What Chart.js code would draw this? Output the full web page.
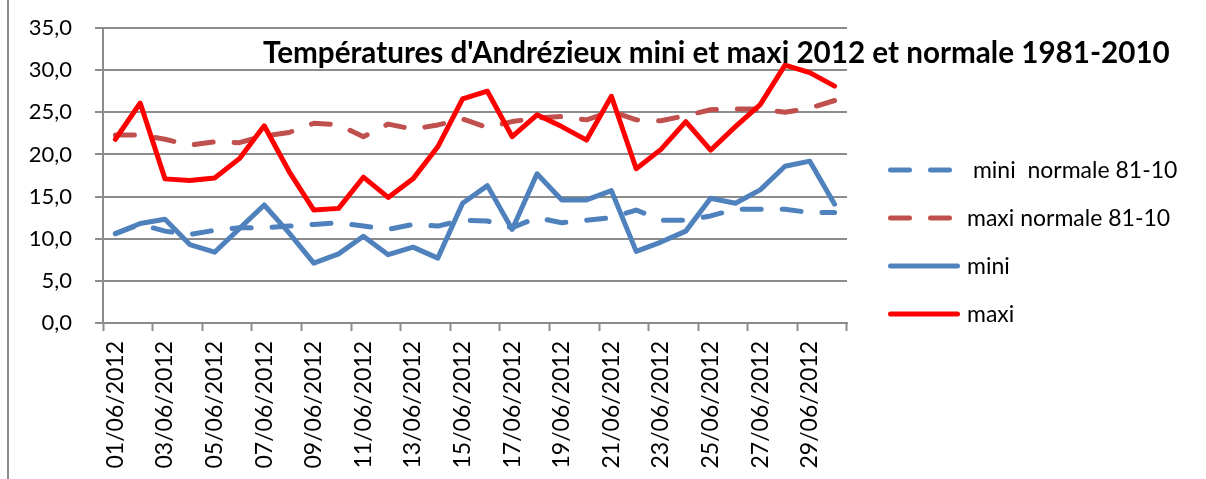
<!DOCTYPE html>
<html><head><meta charset="utf-8">
<script src="https://cdn.jsdelivr.net/npm/chart.js@4/dist/chart.umd.min.js"></script>
<style>
html,body{margin:0;padding:0;background:#fff;}
#wrap{position:relative;width:1206px;height:479px;overflow:hidden;}
#frame{position:absolute;left:7px;top:0;width:2px;height:479px;background:#8c8c8c;}
canvas{position:absolute;left:0;top:0;}
</style></head><body>
<div id="wrap"><div id="frame"></div><canvas id="c" width="1206" height="479"></canvas></div>
<script>
const categories = ['01/06/2012','02/06/2012','03/06/2012','04/06/2012','05/06/2012','06/06/2012','07/06/2012','08/06/2012','09/06/2012','10/06/2012',
  '11/06/2012','12/06/2012','13/06/2012','14/06/2012','15/06/2012','16/06/2012','17/06/2012','18/06/2012','19/06/2012','20/06/2012',
  '21/06/2012','22/06/2012','23/06/2012','24/06/2012','25/06/2012','26/06/2012','27/06/2012','28/06/2012','29/06/2012','30/06/2012'];
const miniNormale = [10.6, 11.7, 10.9, 10.5, 11.0, 11.3, 11.3, 11.5, 11.7, 11.9, 11.5, 11.1, 11.7, 11.5, 12.2, 12.1, 11.3, 12.5, 11.9, 12.2, 12.5, 13.4, 12.2, 12.2, 12.7, 13.5, 13.5, 13.5, 13.1, 13.1];
const maxiNormale = [22.3, 22.3, 21.8, 21.1, 21.5, 21.4, 22.2, 22.6, 23.7, 23.5, 22.1, 23.6, 23.0, 23.5, 24.2, 23.2, 23.9, 24.3, 24.5, 24.1, 25.1, 24.1, 24.0, 24.6, 25.3, 25.4, 25.4, 25.0, 25.5, 26.4];
const mini = [10.6, 11.8, 12.3, 9.3, 8.4, 11.2, 14.0, 10.7, 7.1, 8.2, 10.3, 8.1, 9.0, 7.7, 14.2, 16.3, 11.1, 17.7, 14.6, 14.6, 15.7, 8.5, 9.6, 10.9, 14.8, 14.2, 15.8, 18.6, 19.2, 14.1];
const maxi = [21.8, 26.1, 17.1, 16.9, 17.2, 19.5, 23.4, 18.0, 13.4, 13.6, 17.3, 14.9, 17.1, 20.9, 26.6, 27.5, 22.1, 24.7, 23.3, 21.7, 26.9, 18.3, 20.6, 23.9, 20.5, 23.3, 25.9, 30.6, 29.7, 28.1];
const yTicks = [0, 5, 10, 15, 20, 25, 30, 35];
const titleText = "Températures d'Andrézieux mini et maxi 2012 et normale 1981-2010";
const seriesNames = [' mini  normale 81-10', 'maxi normale 81-10', 'mini', 'maxi'];

const GRAY = '#8c8c8c';
const DASH = [19, 21];

const datasets = [
  {label: seriesNames[3], data: maxi, borderColor: '#ff0000', borderWidth: 5},
  {label: seriesNames[2], data: mini, borderColor: '#4f81bd', borderWidth: 5},
  {label: seriesNames[1], data: maxiNormale, borderColor: '#c0504d', borderWidth: 5, borderDash: DASH},
  {label: seriesNames[0], data: miniNormale, borderColor: '#4f81bd', borderWidth: 5, borderDash: DASH}
].map(d => Object.assign({pointRadius: 0, tension: 0, fill: false, borderCapStyle: 'round', borderJoinStyle: 'round'}, d));

const legendOrder = [3, 2, 1, 0];

const titlePlugin = {
  id: 'insideTitle',
  afterDraw(chart) {
    const ctx = chart.ctx;
    ctx.save();
    let size = 27;
    ctx.font = 'bold ' + size + 'px Lato';
    const w = ctx.measureText(titleText).width;
    size = size * 907 / w;
    ctx.font = 'bold ' + size.toFixed(2) + 'px Lato';
    ctx.fillStyle = '#000';
    ctx.textBaseline = 'alphabetic';
    ctx.textAlign = 'left';
    ctx.fillText(titleText, 263, 62.5);
    ctx.restore();
  }
};

const legendPlugin = {
  id: 'sideLegend',
  afterDraw(chart) {
    const ctx = chart.ctx;
    const ys = [170, 218, 266, 314];
    ctx.save();
    legendOrder.forEach((di, k) => {
      const ds = chart.data.datasets[di];
      const y = ys[k];
      ctx.beginPath();
      ctx.lineWidth = ds.borderWidth;
      ctx.lineCap = 'round';
      ctx.strokeStyle = ds.borderColor;
      ctx.setLineDash(ds.borderDash || []);
      ctx.moveTo(890.5, y);
      ctx.lineTo(957.5, y);
      ctx.stroke();
      ctx.setLineDash([]);
      ctx.font = '23px Lato';
      ctx.fillStyle = '#000';
      ctx.textBaseline = 'middle';
      ctx.textAlign = 'left';
      ctx.fillText(ds.label, 967, y + 1);
    });
    ctx.restore();
  }
};

new Chart(document.getElementById('c'), {
  type: 'line',
  data: {labels: categories, datasets: datasets},
  options: {
    responsive: false,
    animation: false,
    devicePixelRatio: 1,
    layout: {padding: {top: 28, right: 359, left: 0, bottom: 0}},
    plugins: {legend: {display: false}, tooltip: {enabled: false}, title: {display: false}},
    scales: {
      x: {
        type: 'category',
        offset: true,
        grid: {
          offset: true, drawOnChartArea: false, drawTicks: true, tickLength: 8, tickWidth: 2,
          tickColor: c => (c.index === undefined || c.index % 2 === 0) ? GRAY : 'rgba(0,0,0,0)'
        },
        border: {color: GRAY, width: 2},
        ticks: {
          autoSkip: false, minRotation: 90, maxRotation: 90, padding: 10, color: '#000',
          font: {family: 'Lato', size: 23},
          callback: (v, i) => (i % 2 === 0 ? categories[i] : '')
        },
        afterFit: s => { s.height = 156; s.paddingLeft = 0; s.paddingRight = 0; s.paddingTop = 0; s.paddingBottom = 0; }
      },
      y: {
        min: yTicks[0], max: yTicks[yTicks.length - 1],
        afterBuildTicks: s => { s.ticks = yTicks.map(v => ({value: v})); },
        ticks: {
          padding: 23, color: '#000', font: {family: 'Lato', size: 22},
          callback: v => v.toFixed(1).replace('.', ',')
        },
        grid: {color: GRAY, lineWidth: 2, tickLength: 8},
        border: {color: GRAY, width: 2},
        afterFit: s => { s.width = 103; s.paddingTop = 0; s.paddingBottom = 0; s.paddingLeft = 0; s.paddingRight = 0; }
      }
    }
  },
  plugins: [titlePlugin, legendPlugin]
});
</script>
</body></html>
